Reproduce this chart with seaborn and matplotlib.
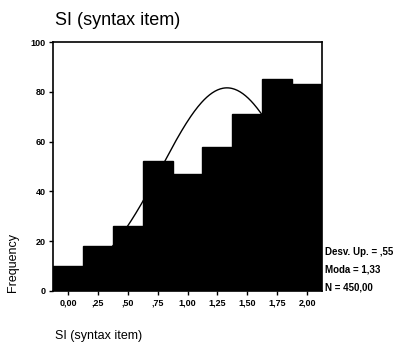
import numpy as np
import pandas as pd
import seaborn as sns
import matplotlib.pyplot as plt

# bin centres and frequencies
centers = [0.0, 0.25, 0.5, 0.75, 1.0, 1.25, 1.5, 1.75, 2.0]
counts = [10, 18, 26, 52, 47, 58, 71, 85, 83]
tick_labels = ["0,00", ",25", ",50", ",75", "1,00", "1,25", "1,50", "1,75", "2,00"]
stats_lines = ["Desv. Up. = ,55", "Moda = 1,33", "N = 450,00"]
mean, sd, n = 1.33, 0.55, 450

sns.set_style("white")
plt.rcParams['font.family'] = ['Liberation Sans', 'DejaVu Sans']
plt.rcParams['text.color'] = 'black'
plt.rcParams['xtick.color'] = 'black'
plt.rcParams['ytick.color'] = 'black'

df = pd.DataFrame({"x": centers, "n": counts})

fig = plt.figure(figsize=(3.99, 3.45), dpi=100)
ax = fig.add_axes([0.133, 0.157, 0.674, 0.721])

# normal curve behind the bars
xs = np.linspace(-0.125, 2.125, 300)
ys = n * 0.25 / (sd * np.sqrt(2 * np.pi)) * np.exp(-0.5 * ((xs - mean) / sd) ** 2)
sns.lineplot(x=xs, y=ys, ax=ax, color="black", lw=1.0, zorder=1)

sns.histplot(data=df, x="x", weights="n", binwidth=0.25, binrange=(-0.125, 2.125),
             ax=ax, color="black", edgecolor="black", alpha=1, zorder=2)

ax.set_xlim(-0.125, 2.125)
ax.set_ylim(0, 100)
ax.set_xticks(centers)
ax.set_xticklabels(tick_labels[:9], fontsize=6.5, fontweight="bold")
ax.set_yticks([0, 20, 40, 60, 80, 100])
ax.set_yticklabels(["0", "20", "40", "60", "80", "100"], fontsize=6.5, fontweight="bold")
ax.tick_params(length=3, width=1, color="black", labelcolor="black", direction="out", pad=2.5)
ax.tick_params(axis="x", bottom=True)
ax.tick_params(axis="y", left=True)
for s in ax.spines.values():
    s.set_color("black")
    s.set_linewidth(1.2)

ax.set_xlabel("")
ax.set_ylabel("")
fig.text(0.138, 0.94, "SI (syntax item)", fontsize=13, color="black", ha="left", va="center")
fig.text(0.138, 0.025, "SI (syntax item)", fontsize=9, color="black", ha="left", va="center")
fig.text(0.033, 0.24, "Frequency", fontsize=9, color="black", rotation=90,
         ha="center", va="center")

for i, t in enumerate(stats_lines):
    fig.text(0.815, 0.270 - i * 0.051, t, fontsize=7, fontweight="bold", color="black",
             ha="left", va="center")

fig.savefig("out.png", dpi=100)
